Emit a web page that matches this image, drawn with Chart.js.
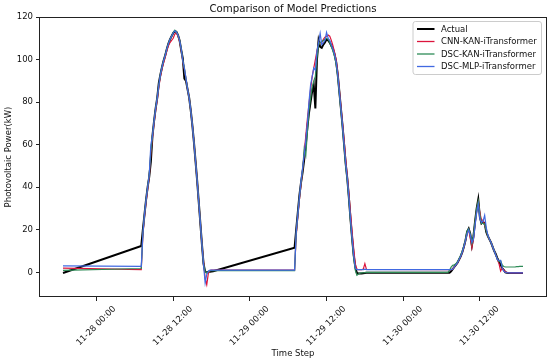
<!DOCTYPE html>
<html><head><meta charset="utf-8">
<script src="https://cdn.jsdelivr.net/npm/chart.js@4.4.1/dist/chart.umd.min.js"></script>
<style>html,body{margin:0;padding:0;background:#fff;}#wrap{width:550px;height:363px;position:relative;}</style>
</head><body><div id="wrap"><canvas id="c" width="550" height="363"></canvas></div>
<script>
const chartTitle = 'Comparison of Model Predictions';
const xAxisTitle = 'Time Step';
const yAxisTitle = 'Photovoltaic Power(kW)';
const seriesNames = ['Actual', 'CNN-KAN-iTransformer', 'DSC-KAN-iTransformer', 'DSC-MLP-iTransformer'];
// sampled every 15 minutes; night hours are absent from the data
const segmentStarts = ['11-27 18:45', '11-28 07:00', '11-29 07:00', '11-30 07:00'];
const segmentCounts = [1, 46, 46, 48];
const xTickLabels = ['11-28 00:00', '11-28 12:00', '11-29 00:00', '11-29 12:00', '11-30 00:00', '11-30 12:00'];
const yTickValues = [0, 20, 40, 60, 80, 100, 120];

const actual = [
  -0.3,
  12.4,20,27,34,40,45,52,64,71,77,82,89,93,96.5,99.5,102,105,107.5,109.5,111,112.5,113.3,113,111.5,109,104.5,100.5,91,90,86,82,76,69,61,52,43,33,23,13,4,0.2,0,0.3,0.3,0.4,0.5,
  11.6,20,28,36,42,47,53,60,68,75,80,85,88,77,100,109,106,105.5,107,108,109.5,109,108,106.5,105,102.5,99,93,85,77,69,60,51,44,35,25,16,8,2.5,-0.3,-0.5,-0.5,-0.5,-0.4,-0.3,-0.2,
  -0.2,-0.2,0.5,1.5,2.5,3.5,4.5,6,7.5,9.5,12,15,19,20.5,18,12.7,17,24,30,34.3,26,23,23.7,23,19,17,15.5,14,12,10,8.5,6.5,5,3.5,2,1,0,-0.2,-0.3,-0.3,-0.3,-0.3,-0.3,-0.3,-0.3,-0.3,-0.3,-0.3
];
const cnnKan = [
  2.0,
  1.3,17,26,33,39,45,56,63,70,76,81,87,92,95.5,98.5,101,104,106.5,108,109,110,112,112.5,111,108.5,104.5,99,95.5,91,86,82,76,69,61,52,43,33,23,13,5,-3,-5.8,-0.5,0.8,1.0,1.0,
  1.0,17,26,34,41,48,56,64,72,79,86,92,96,100,104,107,108,108,109.5,110.5,111,111.5,111,109,106.5,103.5,100,94,86,78,70,62,53,45,37,28,19,11,4,1.5,1.2,1.2,1.3,1.5,4.1,1.4,
  1.3,1.3,1.3,1.5,2.5,3.5,4.5,6,7.5,9.5,12,15,18.5,20,16,11.5,16,23,29,33,28,24.5,24.5,22,20,17,15.5,14,12,10,8,6,4,0.6,2,1,0.2,-0.1,-0.2,-0.3,-0.3,-0.3,-0.3,-0.3,-0.3,-0.3,-0.3,-0.3
];
const dscKan = [
  0.9,
  1.8,18,27,34,40,46,57,64,71,77,82,88,93,96.5,99.5,102,105,107.5,109.5,111,112.8,113.8,113,111.5,109,105,99.5,96,91,86,82,76,69,61,52,43,33,23,13,4,0.1,-0.3,0.3,0.8,0.8,0.8,
  0.8,18,27,35,42,48,58,55,66,76,82,87,90,92,101,107,108,108.5,109,109.5,110,109.5,108,106,104,101.5,98,92,84,76,68,59,50,43,34,24,15,7,1,-1.4,-0.8,-0.4,-0.3,-0.2,-0.1,0,
  0,1,2.5,3.3,3.5,4,5,6.5,8,10,12.5,15.5,19.5,20.5,18,13.5,17.5,24,30,33.5,27,23,23,22.5,19.5,17,15.5,14,12,10,8,6,5,5.5,3.5,2.7,2.5,2.5,2.5,2.5,2.5,2.5,2.5,2.7,2.7,2.8,2.8,2.8
];
const dscMlp = [
  3.0,
  2.8,18,27,34,40,46,60,64,71,77,82,88,93,96.5,99.5,102,105,107.5,109.5,111,112.5,113.5,113,111.5,109,105,99.5,96,91,86,82,76,69,61,52,43,33,23,13,3.5,-5.0,-1,0.5,1.0,1.0,1.0,
  1.0,19,27,35,43,49,55,62,70,80,88,92,96,95,104,108,112.3,107,108,109,112.8,110,109,107,105,102.5,99,93,85,77,69,60,51,44,35,25,16,8,2,1.3,1.3,1.3,1.3,1.3,1.5,1.3,
  1.3,1.3,1.3,1.5,2.5,3.5,4.5,6,7.5,9.5,12,15,18,20,17.5,14,15.5,22,28,32,25,23.5,24,26.8,21,17.5,15.5,14,12,10,8,6,5.5,5.6,2,0.5,0,-0.2,-0.3,-0.3,-0.3,-0.3,-0.3,-0.3,-0.3,-0.3,-0.3,-0.3
];
const seriesColors = ['#000000', '#DC143C', '#2E8B57', '#4169E1'];

function stampToHours(s) { // hours since 11-28 00:00
  const m = s.match(/(\d+)-(\d+) (\d+):(\d+)/);
  return (parseInt(m[2], 10) - 28) * 24 + parseInt(m[3], 10) + parseInt(m[4], 10) / 60;
}
const hours = [];
segmentStarts.forEach((s, i) => { const h0 = stampToHours(s); for (let k = 0; k < segmentCounts[i]; k++) hours.push(h0 + k * 0.25); });
const xTickHours = xTickLabels.map(stampToHours);
const allSeries = [actual, cnnKan, dscKan, dscMlp];
const FONT = 'DejaVu Sans';

const decor = {
  id: 'decor',
  afterDatasetsDraw(chart) {
    const ctx = chart.ctx, a = chart.chartArea;
    ctx.save();
    ctx.strokeStyle = '#222'; ctx.lineWidth = 1;
    ctx.strokeRect(Math.round(a.left) - 0.5, Math.round(a.top) + 0.5, Math.round(a.right - a.left) + 1, Math.round(a.bottom - a.top) - 1);
    ctx.fillStyle = '#111'; ctx.textAlign = 'center'; ctx.textBaseline = 'middle';
    ctx.font = '10.2px "' + FONT + '"';
    ctx.fillText(chartTitle, (a.left + a.right) / 2, 9);
    ctx.font = '8.5px "' + FONT + '"';
    ctx.fillText(xAxisTitle, (a.left + a.right) / 2, 354);
    ctx.save(); ctx.translate(8.5, (a.top + a.bottom) / 2); ctx.rotate(-Math.PI / 2);
    ctx.fillText(yAxisTitle, 0, 0); ctx.restore();
    const lw = 128.5, lh = 53, lx = a.right - 4.5 - lw, ly = a.top + 4.5;
    ctx.beginPath(); ctx.roundRect(lx, ly, lw, lh, 2.5);
    ctx.fillStyle = 'rgba(255,255,255,0.8)'; ctx.fill();
    ctx.strokeStyle = '#cccccc'; ctx.lineWidth = 1; ctx.stroke();
    ctx.textAlign = 'left';
    seriesNames.forEach((n, i) => {
      const y = ly + 7.5 + i * 12.5;
      ctx.beginPath(); ctx.moveTo(lx + 4, y); ctx.lineTo(lx + 21.5, y);
      ctx.strokeStyle = seriesColors[i]; ctx.lineWidth = i === 0 ? 2 : 1.3; ctx.stroke();
      ctx.fillStyle = '#111'; ctx.fillText(n, lx + 28, y + 0.5);
    });
    ctx.restore();
  }
};

new Chart(document.getElementById('c'), {
  type: 'line',
  data: {
    datasets: allSeries.map((vals, i) => ({
      label: seriesNames[i],
      data: vals.map((v, k) => ({ x: hours[k], y: v })),
      borderColor: seriesColors[i],
      borderWidth: i === 0 ? 2 : 1.2,
      pointRadius: 0, tension: 0, fill: false,
      order: 4 - i
    }))
  },
  options: {
    responsive: false, animation: false, devicePixelRatio: 1,
    layout: { padding: { left: 0, right: 4, top: 17, bottom: 0 } },
    plugins: { legend: { display: false }, title: { display: false }, tooltip: { enabled: false } },
    scales: {
      x: {
        type: 'linear', min: -8.85, max: 70.35,
        afterBuildTicks: s => { s.ticks = xTickHours.map(v => ({ value: v })); },
        afterFit: s => { s.height = 66; },
        border: { display: false },
        grid: { drawOnChartArea: false, drawTicks: true, tickLength: 4, color: '#222', tickColor: '#222' },
        ticks: {
          autoSkip: false, minRotation: 45, maxRotation: 45, padding: 3, labelOffset: 18,
          color: '#111', font: { family: FONT, size: 8.5 },
          callback: v => { const i = xTickHours.indexOf(v); return i >= 0 ? xTickLabels[i] : ''; }
        }
      },
      y: {
        type: 'linear', min: -11.6, max: 120,
        afterBuildTicks: s => { s.ticks = yTickValues.map(v => ({ value: v })); },
        afterFit: s => { s.width = 40; },
        border: { display: false },
        grid: { drawOnChartArea: false, drawTicks: true, tickLength: 4, color: '#222', tickColor: '#222' },
        ticks: { padding: 3, color: '#111', font: { family: FONT, size: 8.5 } }
      }
    }
  },
  plugins: [decor]
});
</script></body></html>
